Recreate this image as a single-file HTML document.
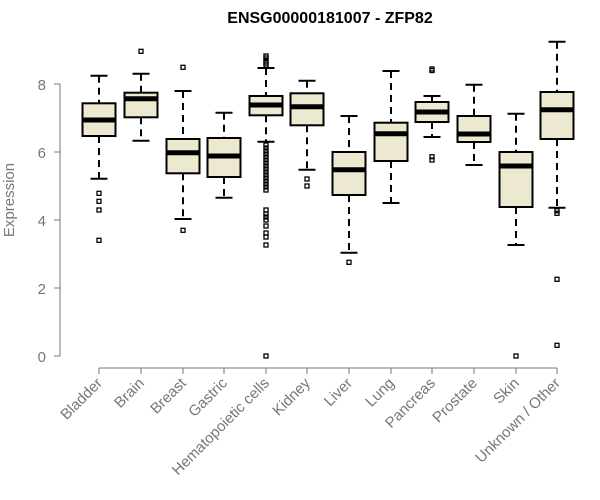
<!DOCTYPE html>
<html><head><meta charset="utf-8"><style>body{margin:0;background:#fff}svg{display:block}</style></head><body>
<svg width="600" height="500" xmlns="http://www.w3.org/2000/svg" font-family="Liberation Sans, sans-serif">
<text x="330" y="23" font-size="16" font-weight="bold" text-anchor="middle">ENSG00000181007 - ZFP82</text>
<g stroke="#777" stroke-width="1" fill="none">
<line x1="60" y1="84" x2="60" y2="356"/>
<line x1="54" y1="84" x2="60" y2="84"/><line x1="54" y1="152" x2="60" y2="152"/><line x1="54" y1="220" x2="60" y2="220"/><line x1="54" y1="288" x2="60" y2="288"/><line x1="54" y1="356" x2="60" y2="356"/>
<line x1="99" y1="368" x2="557" y2="368"/>
</g>
<g fill="#777" font-size="15" text-anchor="end">
<text x="46" y="90">8</text><text x="46" y="158">6</text><text x="46" y="226">4</text><text x="46" y="294">2</text><text x="46" y="362">0</text>
</g>
<text transform="translate(14,200) rotate(-90)" fill="#777" font-size="15" text-anchor="middle">Expression</text>
<g id="plot"></g>
<g id="labels" fill="#777" font-size="15" text-anchor="end"></g>
<script>
var d=[
["Bladder",99,75.7,103.3,120,136,178.7,[193.3,201.3,210,240.3]],
["Brain",141,73.7,92.7,98.7,117.3,140.7,[51.3]],
["Breast",183,91,139,152.7,173.3,219,[67.3,230.3]],
["Gastric",224,112.7,138,156,177,197.7,[]],
["Hematopoietic cells",266,68,96,105,115.3,141.7,[56,58,61,63,65,145,148,151,154,157,160,163,166,169,172,175,178,181,184,187,190,210,214,217,220,226,233,237,245,356]],
["Kidney",307,80.7,93.3,106.7,125.3,169.7,[179,186]],
["Liver",349,116,152,169.7,195,252.7,[262.3]],
["Lung",391,71,122.7,133.7,161,203,[]],
["Pancreas",432,96,102,112,122,137,[69,70.5,156.7,160]],
["Prostate",474,84.7,116,134,142,165,[]],
["Skin",516,113.7,152,166,207,245,[356]],
["Unknown / Other",557,41.7,92,109.7,139,207.7,[210.7,213.3,279.3,345.3]]];
var ns="http://www.w3.org/2000/svg",p=document.getElementById("plot"),L=document.getElementById("labels");
function el(t,a,par){var e=document.createElementNS(ns,t);for(var k in a)e.setAttribute(k,a[k]);(par||p).appendChild(e);return e;}
d.forEach(function(r){var x=r[1];
el("line",{x1:x,y1:r[2],x2:x,y2:r[3],stroke:"#000","stroke-width":2,"stroke-dasharray":"7,5"});
el("line",{x1:x,y1:r[5],x2:x,y2:r[6],stroke:"#000","stroke-width":2,"stroke-dasharray":"7,5"});
el("line",{x1:x-8.5,y1:r[2],x2:x+8.5,y2:r[2],stroke:"#000","stroke-width":2});
el("line",{x1:x-8.5,y1:r[6],x2:x+8.5,y2:r[6],stroke:"#000","stroke-width":2});
el("rect",{x:x-16.5,y:r[3],width:33,height:r[5]-r[3],fill:"#ede8d0",stroke:"#000","stroke-width":2});
el("line",{x1:x-16.5,y1:r[4],x2:x+16.5,y2:r[4],stroke:"#000","stroke-width":5});
r[7].forEach(function(y){el("rect",{x:x-2,y:y-2,width:4,height:4,fill:"none",stroke:"#000","stroke-width":1.3});});
el("line",{x1:x,y1:368,x2:x,y2:374,stroke:"#777","stroke-width":1});
var t=el("text",{transform:"translate("+(x+4)+",384) rotate(-45)"},L);t.textContent=r[0];
});
</script>
</svg>
</body></html>
